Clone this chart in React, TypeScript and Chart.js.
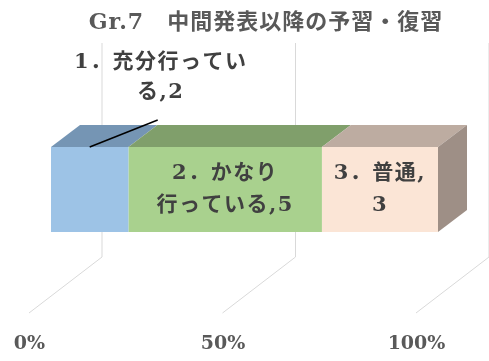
import React, { useEffect, useRef } from 'react';
import { Chart, registerables } from 'chart.js';

Chart.register(...registerables);

const TITLE = 'Gr.7　中間発表以降の予習・復習';
const categories = [''];
const seriesNames = ['1．充分行っている', '2．かなり行っている', '3．普通'];
const seriesValues = [2, 5, 3];
const labelBreaks = [8, 5, 5];

const frontColors = ['#9DC3E6', '#A9D18E', '#FBE5D6'];
const topColors = ['#7595B4', '#809F6B', '#BDACA1'];
const sideColor = '#9E8F86';

const total = seriesValues.reduce((a, b) => a + b, 0);

const DEPTH_X = 29;
const DEPTH_Y = 22;
const WALL_DX = 51;
const WALL_TOP = 43;
const WALL_BOTTOM = 257;
const FLOOR_DX = -22;
const FLOOR_Y = 313;
const LABEL_FONT = 'bold 21px "DejaVu Serif", "Noto Sans CJK JP"';
const TITLE_FONT = 'bold 22px "DejaVu Serif", "Noto Sans CJK JP"';

const threeD = {
  id: 'threeD',
  beforeDatasetsDraw(chart: any) {
    const ctx = chart.ctx;
    const xs = chart.scales.x;
    ctx.save();
    ctx.strokeStyle = '#D9D9D9';
    ctx.lineWidth = 1;
    xs.ticks.forEach((t: any) => {
      const px = xs.getPixelForValue(t.value);
      ctx.beginPath();
      ctx.moveTo(px + WALL_DX, WALL_TOP);
      ctx.lineTo(px + WALL_DX, WALL_BOTTOM);
      ctx.lineTo(px + FLOOR_DX, FLOOR_Y);
      ctx.stroke();
    });
    ctx.restore();
  },
  afterDatasetsDraw(chart: any) {
    const ctx = chart.ctx;
    ctx.save();
    const n = chart.data.datasets.length;
    const rects: any[] = [];
    for (let i = 0; i < n; i++) {
      const el = chart.getDatasetMeta(i).data[0];
      const p = el.getProps(['x', 'y', 'base', 'height'], true);
      const left = Math.min(p.x, p.base);
      const right = Math.max(p.x, p.base);
      const top = p.y - p.height / 2;
      const bottom = p.y + p.height / 2;
      rects.push({ left, right, top, bottom, cy: p.y });
      ctx.fillStyle = topColors[i];
      ctx.beginPath();
      ctx.moveTo(left, top);
      ctx.lineTo(right, top);
      ctx.lineTo(right + DEPTH_X, top - DEPTH_Y);
      ctx.lineTo(left + DEPTH_X, top - DEPTH_Y);
      ctx.closePath();
      ctx.fill();
      if (i === n - 1) {
        ctx.fillStyle = sideColor;
        ctx.beginPath();
        ctx.moveTo(right, top);
        ctx.lineTo(right + DEPTH_X, top - DEPTH_Y);
        ctx.lineTo(right + DEPTH_X, bottom - DEPTH_Y);
        ctx.lineTo(right, bottom);
        ctx.closePath();
        ctx.fill();
      }
    }
    // labels
    ctx.font = LABEL_FONT;
    ctx.fillStyle = '#404040';
    ctx.textAlign = 'center';
    ctx.textBaseline = 'middle';
    (ctx as any).letterSpacing = '1.5px';
    for (let i = 0; i < n; i++) {
      const r = rects[i];
      const full = seriesNames[i] + ',' + seriesValues[i];
      const lines = [full.slice(0, labelBreaks[i]), full.slice(labelBreaks[i])];
      if (i === 0) {
        const cx = (r.left + r.right) / 2;
        const lx = cx + 71;
        const ly = r.top - 69;
        lines.forEach((l, k) => ctx.fillText(l, lx, ly + (k - 0.5) * 30));
        ctx.strokeStyle = '#000000';
        ctx.lineWidth = 1.5;
        ctx.beginPath();
        ctx.moveTo(lx - 3, ly + 42);
        ctx.lineTo(cx, r.top);
        ctx.stroke();
      } else {
        const cx = (r.left + r.right) / 2;
        lines.forEach((l, k) => ctx.fillText(l, cx, r.cy + (k - 0.5) * 32));
      }
    }
    // title
    ctx.font = TITLE_FONT;
    ctx.fillStyle = '#595959';
    (ctx as any).letterSpacing = '1px';
    ctx.fillText(TITLE, 266, 23);
    ctx.restore();
  },
};

export default function App() {
  const ref = useRef<HTMLCanvasElement>(null);
  useEffect(() => {
    const chart = new Chart(ref.current!, {
      type: 'bar',
      data: {
        labels: categories,
        datasets: seriesNames.map((name, i) => ({
          label: name,
          data: [seriesValues[i]],
          backgroundColor: frontColors[i],
          borderWidth: 0,
          barPercentage: 85 / 179,
          categoryPercentage: 1,
          stack: 's',
        })),
      },
      options: {
        indexAxis: 'y',
        responsive: false,
        animation: false,
        devicePixelRatio: 1,
        layout: { padding: { left: 51, right: 51, top: 100, bottom: 0 } },
        plugins: {
          legend: { display: false },
          tooltip: { enabled: false },
          title: { display: false },
        },
        scales: {
          x: {
            stacked: true,
            min: 0,
            max: total,
            grid: { display: false, drawTicks: false },
            border: { display: false },
            afterFit: (s: any) => {
              s.height = 82;
              s.paddingLeft = 0;
              s.paddingRight = 0;
            },
            ticks: {
              stepSize: total / 2,
              padding: 54,
              labelOffset: -21.5,
              maxRotation: 0,
              minRotation: 0,
              color: '#595959',
              font: { family: '"DejaVu Serif", serif', size: 19, weight: 'bold' },
              callback: (v: any) => Math.round((Number(v) / total) * 100) + '%',
            },
          },
          y: {
            stacked: true,
            display: false,
          },
        },
      },
      plugins: [threeD],
    });
    return () => chart.destroy();
  }, []);
  return (
    <div style={{ position: 'absolute', left: 0, top: 0, width: 489, height: 361, background: '#ffffff' }}>
      <canvas ref={ref} width={489} height={361} style={{ display: 'block' }} />
    </div>
  );
}
